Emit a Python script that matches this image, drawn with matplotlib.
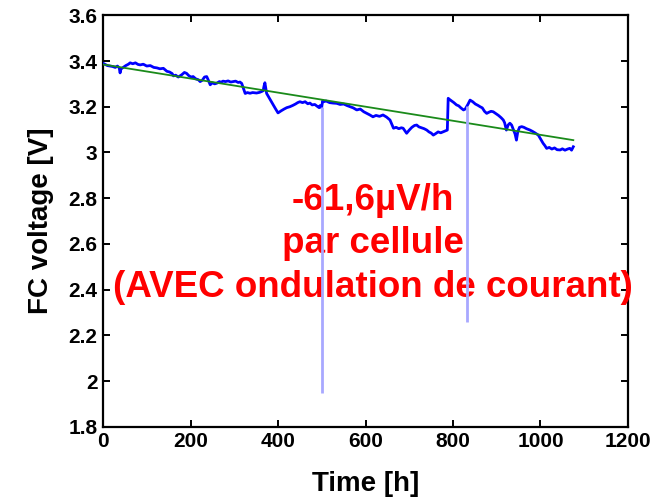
import numpy as np
import matplotlib
matplotlib.use("Agg")
import matplotlib.pyplot as plt

plt.rcParams['font.family'] = ['Liberation Sans', 'DejaVu Sans']
plt.rcParams['font.weight'] = 'bold'

# stack voltage over the test (hours, volts)
time_h = [0, 5, 10, 16, 22, 28, 33, 37, 39, 41, 46, 52, 58, 62, 68, 74, 80, 85, 92,
          100, 108, 116, 123, 130, 138, 146, 152, 158, 161, 166, 172, 180, 186, 191,
          196, 201, 206, 212, 218, 222, 227, 232, 237, 241, 245, 250, 255, 260, 266,
          270, 274, 280, 286, 292, 297, 303, 309, 313, 317, 321, 325, 330, 336, 342,
          351, 358, 363, 366, 368, 370, 372, 374, 380, 387, 394, 400, 407, 414, 420,
          427, 434, 440, 445, 450, 456, 462, 468, 473, 478, 484, 488, 491, 494, 496,
          498, 500, 502, 504, 510, 518, 526, 534, 542, 550, 558, 565, 572, 580, 588,
          596, 604, 610, 617, 624, 632, 640, 648, 656, 664, 670, 676, 682, 686, 690,
          694, 700, 706, 712, 717, 722, 728, 734, 740, 745, 750, 755, 760, 766, 772,
          778, 783, 787, 789, 792, 797, 802, 808, 813, 818, 824, 828, 831, 834, 839,
          845, 851, 857, 862, 867, 872, 877, 882, 887, 892, 898, 904, 910, 915, 918,
          922, 926, 930, 934, 938, 942, 945, 948, 952, 957, 962, 968, 976, 982, 988,
          995, 1000, 1003, 1006, 1010, 1014, 1020, 1026, 1032, 1038, 1045, 1050, 1056,
          1062, 1067, 1071, 1075]
voltage = [3.390, 3.385, 3.380, 3.378, 3.376, 3.372, 3.378, 3.370, 3.348, 3.365, 3.372,
           3.380, 3.386, 3.392, 3.388, 3.392, 3.385, 3.383, 3.386, 3.378, 3.380, 3.372,
           3.370, 3.366, 3.368, 3.355, 3.352, 3.345, 3.335, 3.338, 3.330, 3.340, 3.350,
           3.346, 3.336, 3.330, 3.332, 3.322, 3.318, 3.310, 3.316, 3.330, 3.332, 3.315,
           3.296, 3.305, 3.300, 3.303, 3.310, 3.307, 3.312, 3.310, 3.313, 3.308, 3.310,
           3.312, 3.306, 3.308, 3.302, 3.280, 3.258, 3.262, 3.259, 3.262, 3.260, 3.263,
           3.267, 3.270, 3.290, 3.305, 3.280, 3.258, 3.238, 3.215, 3.192, 3.173, 3.182,
           3.190, 3.196, 3.200, 3.206, 3.212, 3.218, 3.222, 3.218, 3.222, 3.213, 3.216,
           3.208, 3.210, 3.204, 3.200, 3.196, 3.205, 3.198, 3.200, 3.226, 3.222, 3.225,
           3.218, 3.216, 3.215, 3.210, 3.212, 3.205, 3.200, 3.195, 3.186, 3.190, 3.178,
           3.170, 3.164, 3.156, 3.162, 3.158, 3.164, 3.155, 3.142, 3.106, 3.110, 3.104,
           3.108, 3.106, 3.095, 3.084, 3.098, 3.110, 3.118, 3.120, 3.112, 3.108, 3.104,
           3.098, 3.090, 3.085, 3.076, 3.082, 3.090, 3.086, 3.091, 3.095, 3.098, 3.237,
           3.232, 3.225, 3.218, 3.208, 3.204, 3.195, 3.186, 3.190, 3.200, 3.210, 3.229,
           3.222, 3.212, 3.206, 3.200, 3.195, 3.180, 3.171, 3.176, 3.180, 3.178, 3.170,
           3.162, 3.152, 3.142, 3.130, 3.098, 3.120, 3.128, 3.120, 3.100, 3.080, 3.054,
           3.090, 3.110, 3.113, 3.110, 3.104, 3.098, 3.092, 3.085, 3.076, 3.060, 3.050,
           3.040, 3.030, 3.018, 3.022, 3.015, 3.020, 3.012, 3.011, 3.016, 3.010, 3.015,
           3.018, 3.010, 3.025]

# short current dips
dip_time = [500, 832]
dip_min = [1.95, 2.26]

# linear degradation fit
fit_start_v = 3.385
rate_per_cell = -61.6e-6   # V/h
n_cells = 5

fig = plt.figure(figsize=(6.69, 5.01), dpi=100)
ax = fig.add_axes([0.154, 0.148, 0.7847, 0.8215])

t = np.array(time_h)
v = np.array(voltage)
ax.plot(t, v, color='#0000ff', lw=2.0, zorder=3)

dip_top = np.interp(dip_time, t, v)
ax.vlines(dip_time, dip_min, dip_top, color='#a8a8ff', lw=2.0, zorder=5)

fit_t = np.array([t[0], t[-1]])
fit_v = fit_start_v + rate_per_cell * n_cells * fit_t
ax.plot(fit_t, fit_v, color='#1a8a1a', lw=1.3, zorder=4)

ax.text(616, 2.6, "-61,6µV/h\npar cellule\n(AVEC ondulation de courant)",
        color='#ff0000', fontsize=26.5, fontweight='bold', ha='center',
        va='center', multialignment='center', linespacing=1.32, zorder=4)

ax.set_xlim(0, 1200)
ax.set_ylim(1.8, 3.6)
ax.set_xticks(range(0, 1201, 200))
ax.set_yticks([1.8, 2.0, 2.2, 2.4, 2.6, 2.8, 3.0, 3.2, 3.4, 3.6])
ax.set_yticklabels(['1.8', '2', '2.2', '2.4', '2.6', '2.8', '3', '3.2', '3.4', '3.6'])
ax.tick_params(direction='in', length=5, width=1.4, top=True, right=True,
               labelsize=15, pad=4)
for lab in ax.get_xticklabels() + ax.get_yticklabels():
    lab.set_fontweight('bold')
for sp in ax.spines.values():
    sp.set_linewidth(1.6)

ax.set_xlabel("Time [h]", fontsize=20, fontweight='bold', labelpad=14)
ax.set_ylabel("FC voltage [V]", fontsize=20, fontweight='bold', labelpad=10)

fig.savefig("out.png", dpi=100)
